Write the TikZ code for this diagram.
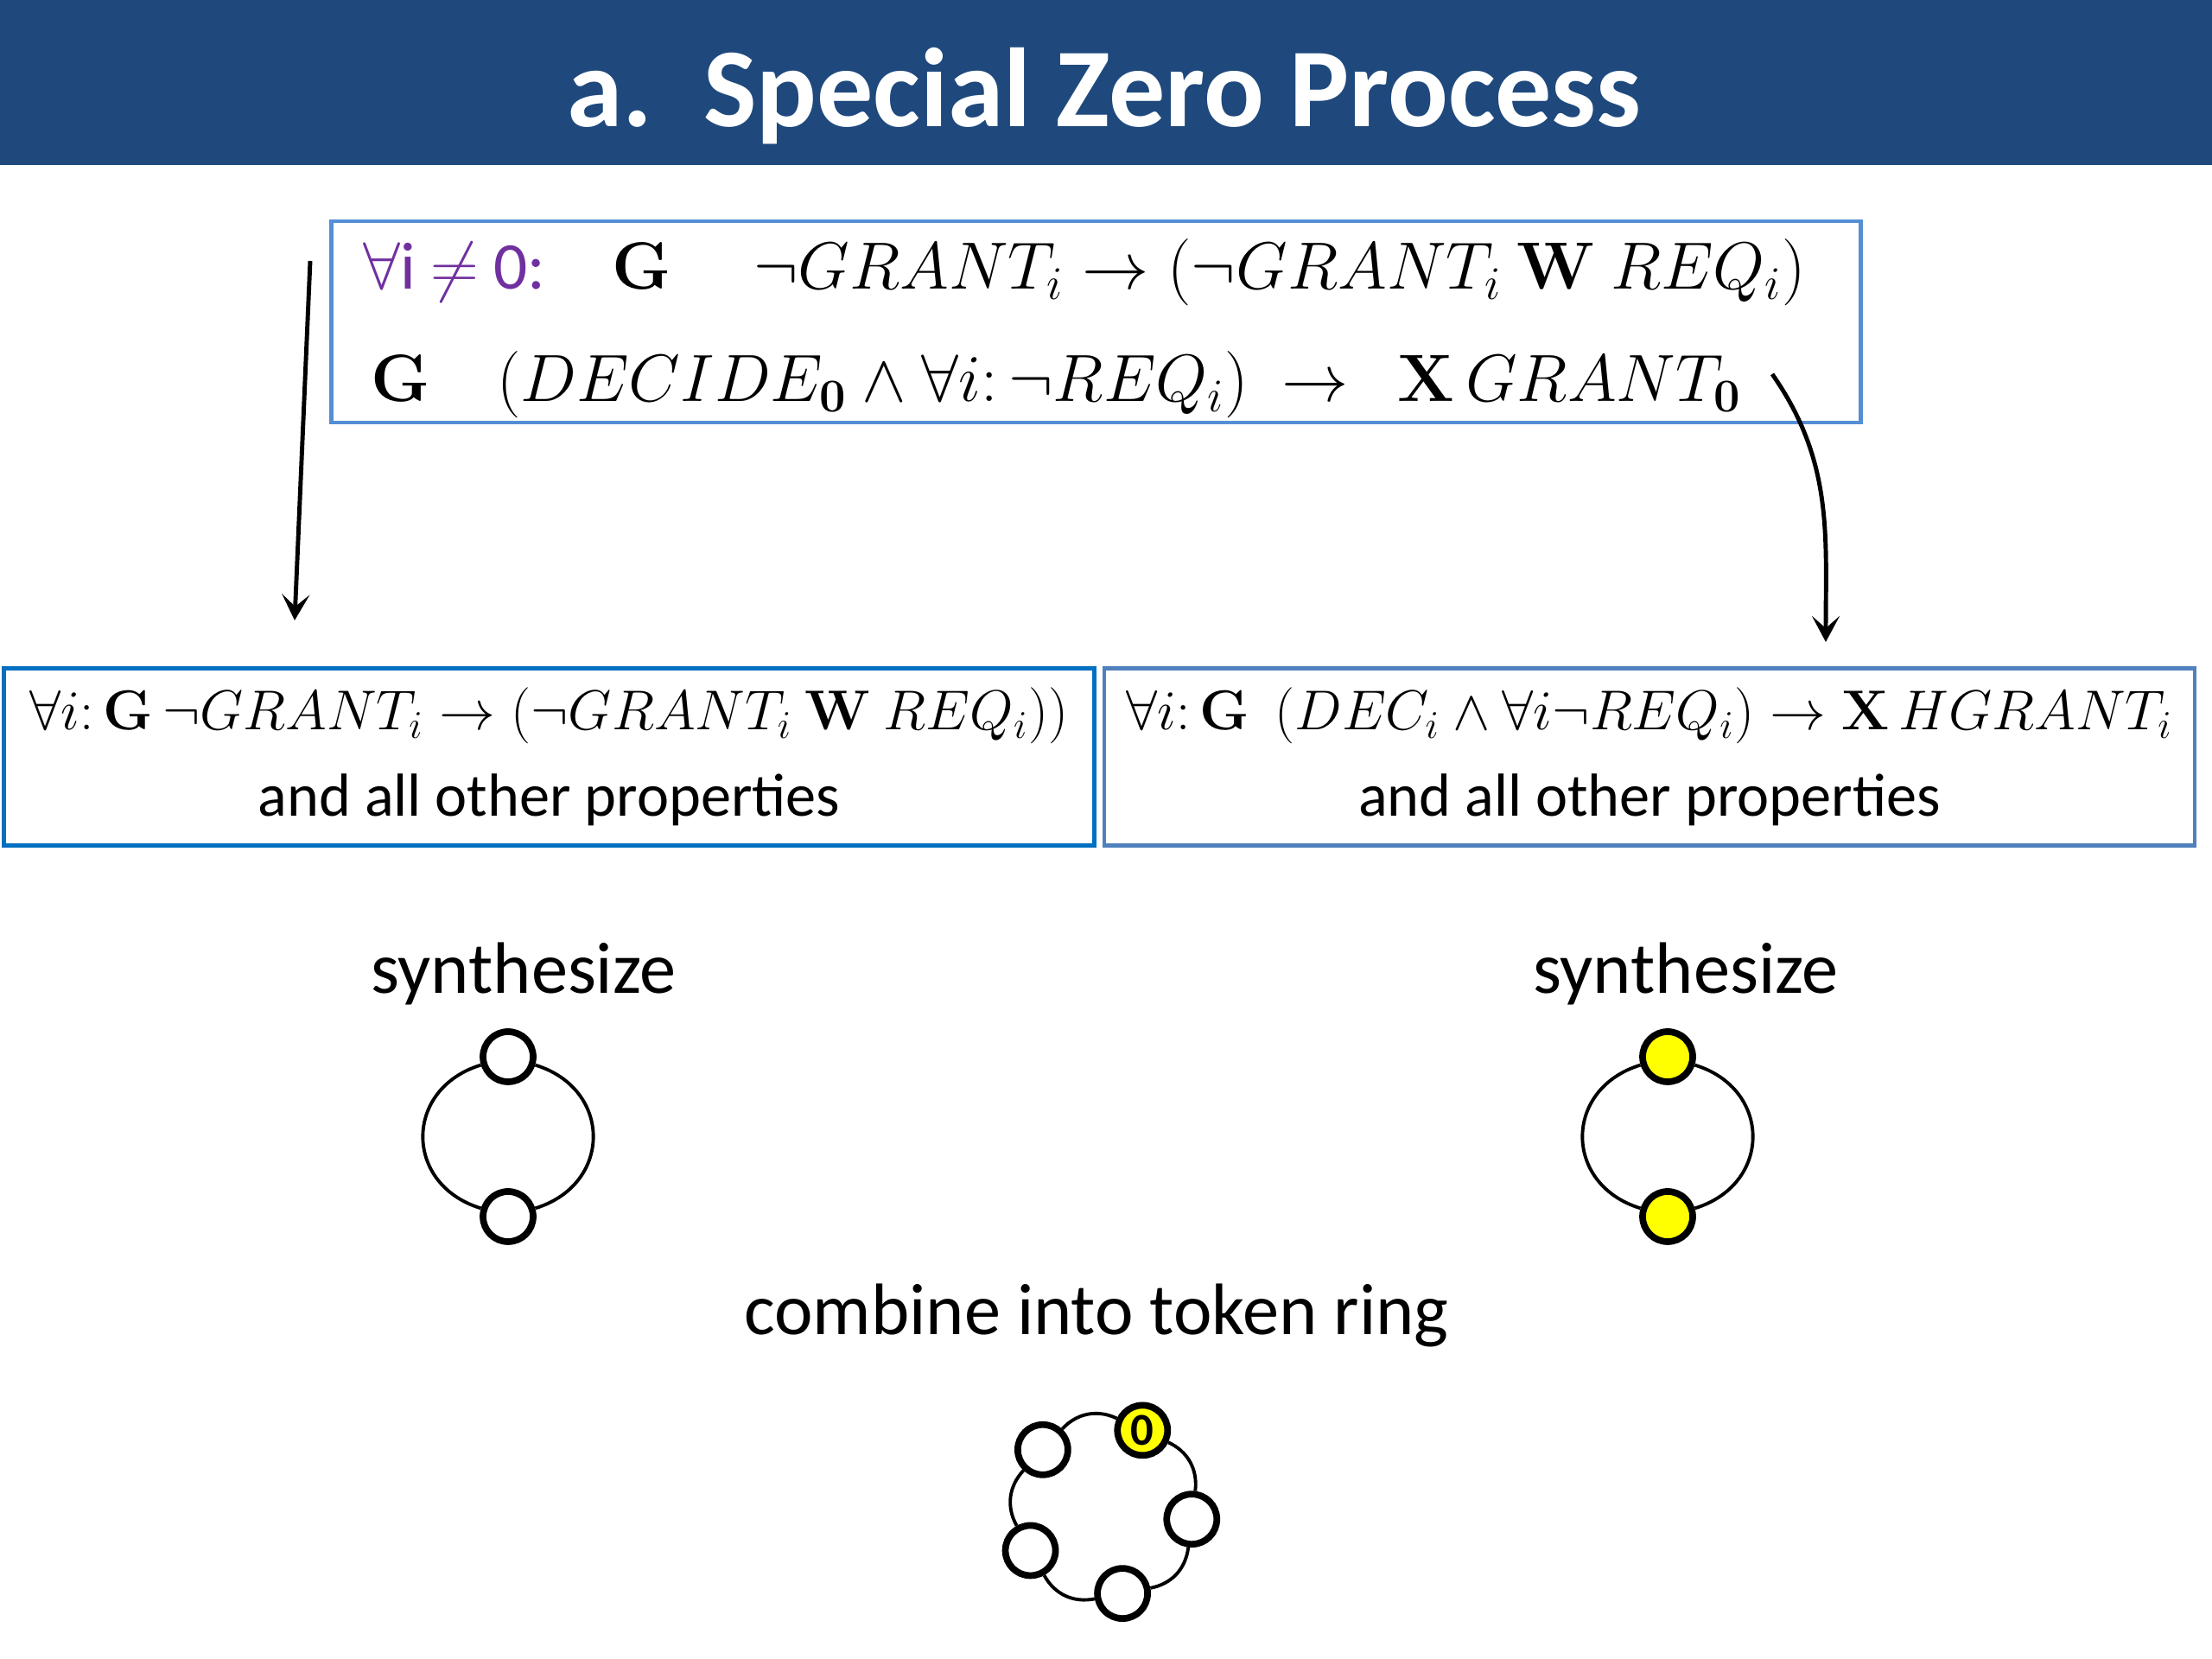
\RequirePackage{fix-cm}
\documentclass[tikz,border=0pt]{standalone}
\usepackage[no-math]{fontspec}
\setmainfont{Carlito}
\usetikzlibrary{arrows.meta,positioning}

\definecolor{titleblue}{RGB}{31,73,125}
\definecolor{specblue}{RGB}{85,142,213}
\definecolor{leftblue}{RGB}{0,112,192}
\definecolor{rightblue}{RGB}{79,129,189}
\definecolor{zeropurple}{RGB}{112,48,160}
\definecolor{tokenyellow}{RGB}{255,255,0}

\tikzset{
  proc/.style={circle,draw,line width=2.2pt,fill=white,minimum size=0.58cm,inner sep=0pt},
  ringline/.style={line width=1.1pt},
  arr/.style={line width=1.4pt,-{Stealth[length=3mm,width=3.2mm,inset=1.4mm]}},
  propbox/.style={draw,line width=1.4pt,minimum width=12.62cm,minimum height=2.05cm,align=center,
    inner xsep=1pt,font=\fontsize{20}{28.5}\selectfont},
  label/.style={font=\fontsize{24}{28}\selectfont}
}
\newcommand{\propfont}{\fontsize{18.5}{28.5}\selectfont}

\begin{document}
\begin{tikzpicture}
\useasboundingbox (0,0) rectangle (25.6,19.2);

% title bar
\fill[titleblue] (0,17.29) rectangle (25.6,19.2);
\node[anchor=base,text=white,font=\fontsize{37}{44}\selectfont\bfseries] (title) at (12.78,17.73) {a.\ \ Special Zero Process};

% specification
\node[draw=specblue,line width=1.2pt,minimum width=17.7cm,minimum height=2.33cm] (spec) at (12.685,15.475) {};
\node[anchor=base west,font=\fontsize{22}{26}\selectfont] (specone) at (4.08,15.85)
  {\textcolor{zeropurple}{$\forall$i $\neq$ 0:}\quad $\mathbf{G}\quad\ \neg GRANT_i\rightarrow(\neg GRANT_i\ \mathbf{W}\ REQ_i)$};
\node[anchor=base west,font=\fontsize{22}{26}\selectfont] (spectwo) at (4.17,14.55)
  {$\mathbf{G}\quad(DECIDE_{\mathbf{0}}\wedge\forall i{:}\,\neg REQ_i)\ \rightarrow\ \ \mathbf{X}\,GRANT_{\mathbf{0}}$};

% the two split specifications
\node[propbox,draw=leftblue] (leftspec) at (6.355,10.44)
  {{\propfont$\forall i{:}\,\mathbf{G}\,\neg GRANT_i\rightarrow(\neg GRANT_i\ \mathbf{W}\ REQ_i))$}\\ and all other properties};
\node[propbox,draw=rightblue] (rightspec) at (19.09,10.44)
  {{\propfont$\forall i{:}\,\mathbf{G}\ \ (DEC_i\wedge\forall i\neg REQ_i)\rightarrow\mathbf{X}\,HGRANT_i$}\\ and all other properties};

\coordinate (lstart) at (3.59,16.18);
\coordinate (lend) at (3.41,12.02);
\coordinate (rstart) at (20.51,14.87);
\coordinate (rend) at (21.13,11.77);
\draw[arr] (lstart) -- (lend);
\draw[arr] (rstart) to[out=-55,in=90] (rend);

\node[label] (synthl) at (6.06,7.93) {synthesize};
\node[label] (synthr) at (19.51,7.93) {synthesize};

% left ring
\begin{scope}[shift={(5.88,6.045)}]
\node[proc] (lt) at (0,0.925) {};
\node[proc] (lb) at (0,-0.925) {};
\draw[ringline] (lt) to[out=197,in=163,looseness=1.45] (lb);
\draw[ringline] (lt) to[out=-17,in=17,looseness=1.45] (lb);
\end{scope}

% right ring
\begin{scope}[shift={(19.30,6.045)}]
\node[proc,fill=tokenyellow] (rt) at (0,0.925) {};
\node[proc,fill=tokenyellow] (rb) at (0,-0.925) {};
\draw[ringline] (rt) to[out=197,in=163,looseness=1.45] (rb);
\draw[ringline] (rt) to[out=-17,in=17,looseness=1.45] (rb);
\end{scope}

\node[label] (combine) at (12.69,3.98) {combine into token ring};

% token ring
\begin{scope}[shift={(12.80,1.74)}]
\node[proc,fill=tokenyellow,font=\fontsize{15}{15}\selectfont\bfseries] (t0) at (65:1) {0};
\node[proc] (t1) at (137:1) {};
\node[proc] (t2) at (209:1) {};
\node[proc] (t3) at (281:1) {};
\node[proc] (t4) at (353:1) {};
\draw[ringline] (t0) to[bend right=36] (t1);
\draw[ringline] (t1) to[bend right=36] (t2);
\draw[ringline] (t2) to[bend right=36] (t3);
\draw[ringline] (t3) to[bend right=36] (t4);
\draw[ringline] (t4) to[bend right=36] (t0);
\end{scope}

\end{tikzpicture}
\end{document}
